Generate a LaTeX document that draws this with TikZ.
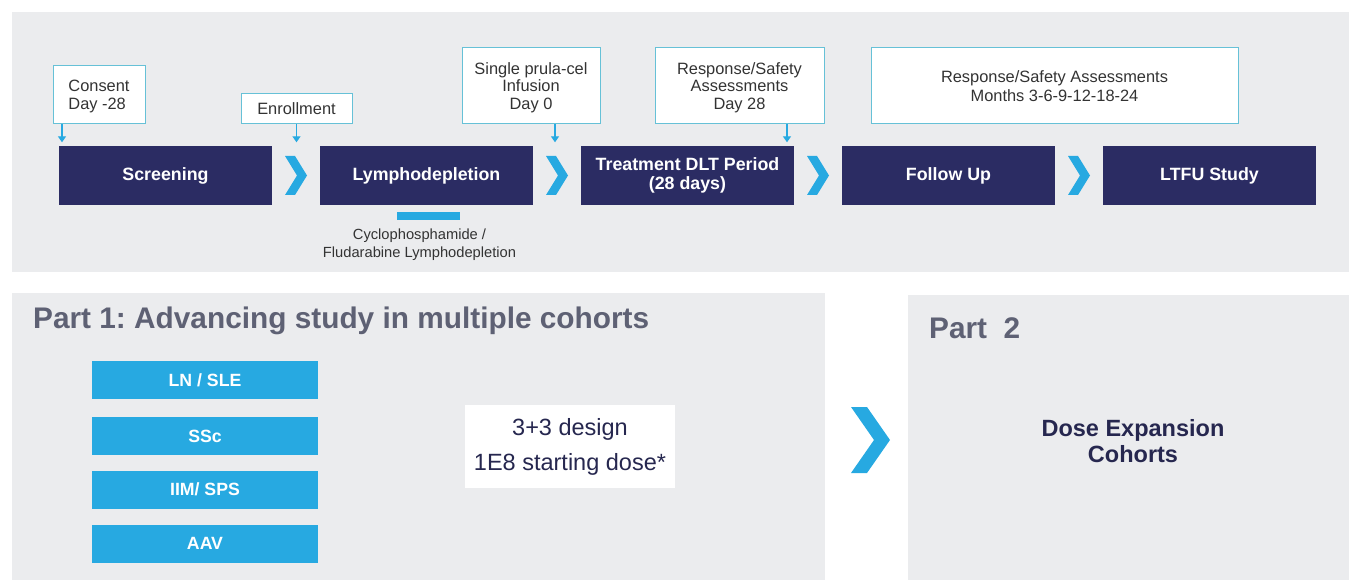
\documentclass[tikz,border=0pt]{standalone}
\usepackage{fontspec}
\setmainfont{Liberation Sans}
\usetikzlibrary{arrows.meta,calc}

\definecolor{navy}{HTML}{2B2C63}
\definecolor{sky}{HTML}{27A9E1}
\definecolor{panel}{HTML}{EBECEE}
\definecolor{rim}{HTML}{66C1D7}
\definecolor{ink}{HTML}{333333}
\definecolor{titlegray}{HTML}{5E6174}
\definecolor{deep}{HTML}{26274F}

\tikzset{
  pics/chevsmall/.style={code={
    \fill[sky] (-11,-19.5) -- (-1,-19.5) -- (11,0) -- (-1,19.5) -- (-11,19.5) -- (1,0) -- cycle;}},
  pics/chevbig/.style={code={
    \fill[sky] (-19.5,-33) -- (-3.5,-33) -- (19.5,0) -- (-3.5,33) -- (-19.5,33) -- (3.5,0) -- cycle;}}
}

\begin{document}
\frenchspacing
\begin{tikzpicture}[x=1pt,y=-1pt,
  phase/.style={fill=navy, text=white, minimum width=213pt, minimum height=59pt,
    inner sep=0pt, align=center, font=\fontsize{17.8}{19.5}\selectfont\bfseries},
  callout/.style={fill=white, draw=rim, line width=1pt, inner sep=0pt, text=ink,
    text depth=0pt, align=center, font=\fontsize{16.4}{17.5}\selectfont},
  cohort/.style={fill=sky, text=white, minimum width=226pt, minimum height=38pt,
    inner sep=0pt, font=\fontsize{17.7}{19}\selectfont\bfseries},
  pin/.style={draw=sky, line width=1.3pt, shorten >=3.5pt, -{Triangle[width=8pt,length=6pt]}},
  heading/.style={text=titlegray, inner sep=0pt, anchor=west, font=\fontsize{29.8}{32}\selectfont\bfseries}
]
\useasboundingbox (0,0) rectangle (1349,580);

% panels
\fill[panel] (12,12) rectangle (1349,272);
\fill[panel] (12,293) rectangle (825,580);
\fill[panel] (908,295) rectangle (1349,580);

% timeline phases
\node[phase] (screen) at (165.5,175.5) {Screening};
\node[phase] (lympho) at (426.5,175.5) {Lymphodepletion};
\node[phase] (treat)  at (687.5,175.5) {Treatment DLT Period\\(28 days)};
\node[phase] (follow) at (948.5,175.5) {Follow Up};
\node[phase] (ltfu)   at (1209.5,175.5) {LTFU Study};

\path ($(screen.east)!0.5!(lympho.west)$) pic {chevsmall};
\path ($(lympho.east)!0.5!(treat.west)$) pic {chevsmall};
\path ($(treat.east)!0.5!(follow.west)$) pic {chevsmall};
\path ($(follow.east)!0.5!(ltfu.west)$) pic {chevsmall};

% milestone callouts
\node[callout, minimum width=92pt, minimum height=58pt, align=left] (consent) at (99,95) {Consent\\Day -28};
\node[callout, minimum width=111pt, minimum height=30pt] (enrol) at (296.5,109) {Enrollment};
\node[callout, minimum width=138pt, minimum height=76pt] (infuse) at (531,86) {Single prula-cel\\Infusion\\Day 0};
\node[callout, minimum width=169pt, minimum height=76pt] (day28) at (739.5,86) {Response/Safety\\Assessments\\Day 28};
\node[callout, minimum width=367pt, minimum height=76pt, font=\fontsize{16.4}{19}\selectfont] (months) at (1054.5,86) {Response/Safety Assessments\\Months 3-6-9-12-18-24};

\coordinate (c1) at (consent.south west -| 62,0);
\coordinate (c2) at (enrol.south);
\coordinate (c3) at (infuse.south -| 555,0);
\coordinate (c4) at (day28.south -| 787,0);
\draw[pin] (c1) -- (c1 |- screen.north);
\draw[pin] (c2) -- (c2 |- lympho.north);
\draw[pin] (c3) -- (c3 |- treat.north);
\draw[pin] (c4) -- (c4 |- treat.north);

% conditioning regimen
\fill[sky] (397,212) rectangle (460,220);
\node[text=ink, align=center, inner sep=0pt, font=\fontsize{14.7}{18}\selectfont] (regimen) at (419.5,245) {Cyclophosphamide /\\Fludarabine Lymphodepletion};

% part 1
\node[heading] (p1title) at (33,320.5) {Part 1: Advancing study in multiple cohorts};
\node[cohort] (lnsle) at (205,380) {LN / SLE};
\node[cohort] (ssc)   at (205,436) {SSc};
\node[cohort] (iim)   at (205,489.5) {IIM/ SPS};
\node[cohort] (aav)   at (205,543.5) {AAV};
\node[fill=white, text=deep, minimum width=210pt, minimum height=83pt, inner sep=0pt,
  align=center, font=\fontsize{23.5}{35}\selectfont] (design) at (570,446.5) {3+3 design\\1E8 starting dose*};

\path (870.5,440) pic {chevbig};

% part 2
\node[heading] (p2title) at (929,328.5) {Part\ \ 2};
\node[text=deep, align=center, inner sep=0pt, font=\fontsize{23.5}{26}\selectfont\bfseries] (expand) at (1133,441) {Dose Expansion\\Cohorts};
\end{tikzpicture}
\end{document}
